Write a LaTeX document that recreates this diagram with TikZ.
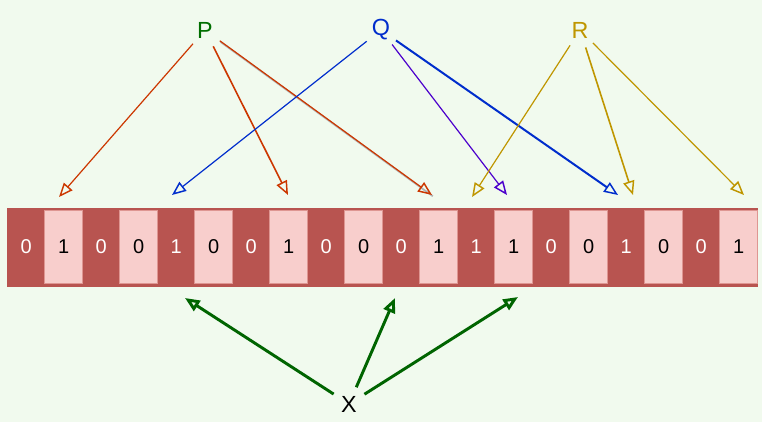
\documentclass[tikz,border=0pt]{standalone}
\usepackage{fontspec}
\setmainfont{Liberation Sans}
\usetikzlibrary{arrows.meta}

\definecolor{bgcol}{RGB}{241,250,238}
\definecolor{darkred}{RGB}{184,84,80}
\definecolor{lightred}{RGB}{248,206,204}
\definecolor{cellline}{RGB}{222,150,146}
\definecolor{pgreen}{RGB}{0,110,0}
\definecolor{porange}{RGB}{204,55,0}
\definecolor{qblue}{RGB}{0,45,204}
\definecolor{qviolet}{RGB}{76,0,204}
\definecolor{rgold}{RGB}{191,150,0}
\definecolor{xgreen}{RGB}{0,100,0}

\tikzset{
  darkcell/.style={fill=darkred, minimum width=28.125pt, minimum height=58.5pt, inner sep=0pt, text=white, font=\fontsize{15}{18}\selectfont},
  lightcell/.style={fill=lightred, draw=cellline, line width=0.6pt, minimum width=28.5pt, minimum height=54.75pt, inner sep=0pt, text=black, font=\fontsize{15}{18}\selectfont},
  varname/.style={circle, minimum size=27pt, inner sep=0pt, font=\fontsize{17.5}{20}\selectfont},
  link/.style={-{Triangle[open,length=10.5pt,width=8.5pt,line width=1.1pt]}, line width=0.9pt},
  xlink/.style={-{Triangle[open,length=11pt,width=9pt]}, line width=2.2pt, draw=xgreen}
}

\begin{document}
\begin{tikzpicture}[x=0.75pt,y=0.75pt,yscale=-1,xscale=1]
%set diagram size
\useasboundingbox (0,0) rectangle (762,422);
\fill [bgcol] (0,0) rectangle (762,422);

%Shape: Bar
\draw [fill=darkred, draw=darkred] (7.5,208) rectangle (757.5,286);

%Cells
\node [darkcell]  (c1)  at (26.25,247)  {0};
\node [lightcell] (c2)  at (63.75,246.5)  {1};
\node [darkcell]  (c3)  at (101.25,247) {0};
\node [lightcell] (c4)  at (138.75,246.5) {0};
\node [darkcell]  (c5)  at (176.25,247) {1};
\node [lightcell] (c6)  at (213.75,246.5) {0};
\node [darkcell]  (c7)  at (251.25,247) {0};
\node [lightcell] (c8)  at (288.75,246.5) {1};
\node [darkcell]  (c9)  at (326.25,247) {0};
\node [lightcell] (c10) at (363.75,246.5) {0};
\node [darkcell]  (c11) at (401.25,247) {0};
\node [lightcell] (c12) at (438.75,246.5) {1};
\node [darkcell]  (c13) at (476.25,247) {1};
\node [lightcell] (c14) at (513.75,246.5) {1};
\node [darkcell]  (c15) at (551.25,247) {0};
\node [lightcell] (c16) at (588.75,246.5) {0};
\node [darkcell]  (c17) at (626.25,247) {1};
\node [lightcell] (c18) at (663.75,246.5) {0};
\node [darkcell]  (c19) at (701.25,247) {0};
\node [lightcell] (c20) at (738.75,246.5) {1};

% Text Node
\node [varname, text=pgreen] (P) at (205,30) {P};
% Text Node
\node [varname, text=qblue] (Q) at (381,30) {Q};
% Text Node
\node [varname, text=rgold] (R) at (580,30) {R};
% Text Node
\node [varname, text=black] (X) at (349,404) {X};

%Arrow ends
\coordinate (p1) at (59,197);
\coordinate (p2) at (288,195);
\coordinate (p3) at (432,195);
\coordinate (q1) at (172,195);
\coordinate (q2) at (507,195);
\coordinate (q3) at (618,195);
\coordinate (r1) at (472,197);
\coordinate (r2) at (633,195);
\coordinate (r3) at (744,195);
\coordinate (x1) at (185,298);
\coordinate (x2) at (395,298);
\coordinate (x3) at (518,297);

%Straight Lines
\draw [link, draw=porange] (P) -- (p1);
\draw [link, draw=porange, line width=1.2pt] (P) -- (p2);
\draw [link, draw=porange, preaction={draw=black!30, -, line width=1.3pt, transform canvas={shift={(0.6pt,-0.9pt)}}}] (P) -- (p3);
\draw [link, draw=qblue] (Q) -- (q1);
\draw [link, draw=qviolet] (Q) -- (q2);
\draw [link, draw=qblue, line width=1.5pt] (Q) -- (q3);
\draw [link, draw=rgold] (R) -- (r1);
\draw [link, draw=rgold, line width=1.2pt] (R) -- (r2);
\draw [link, draw=rgold] (R) -- (r3);
\draw [xlink] (X) -- (x1);
\draw [xlink] (X) -- (x2);
\draw [xlink] (X) -- (x3);

\end{tikzpicture}
\end{document}
